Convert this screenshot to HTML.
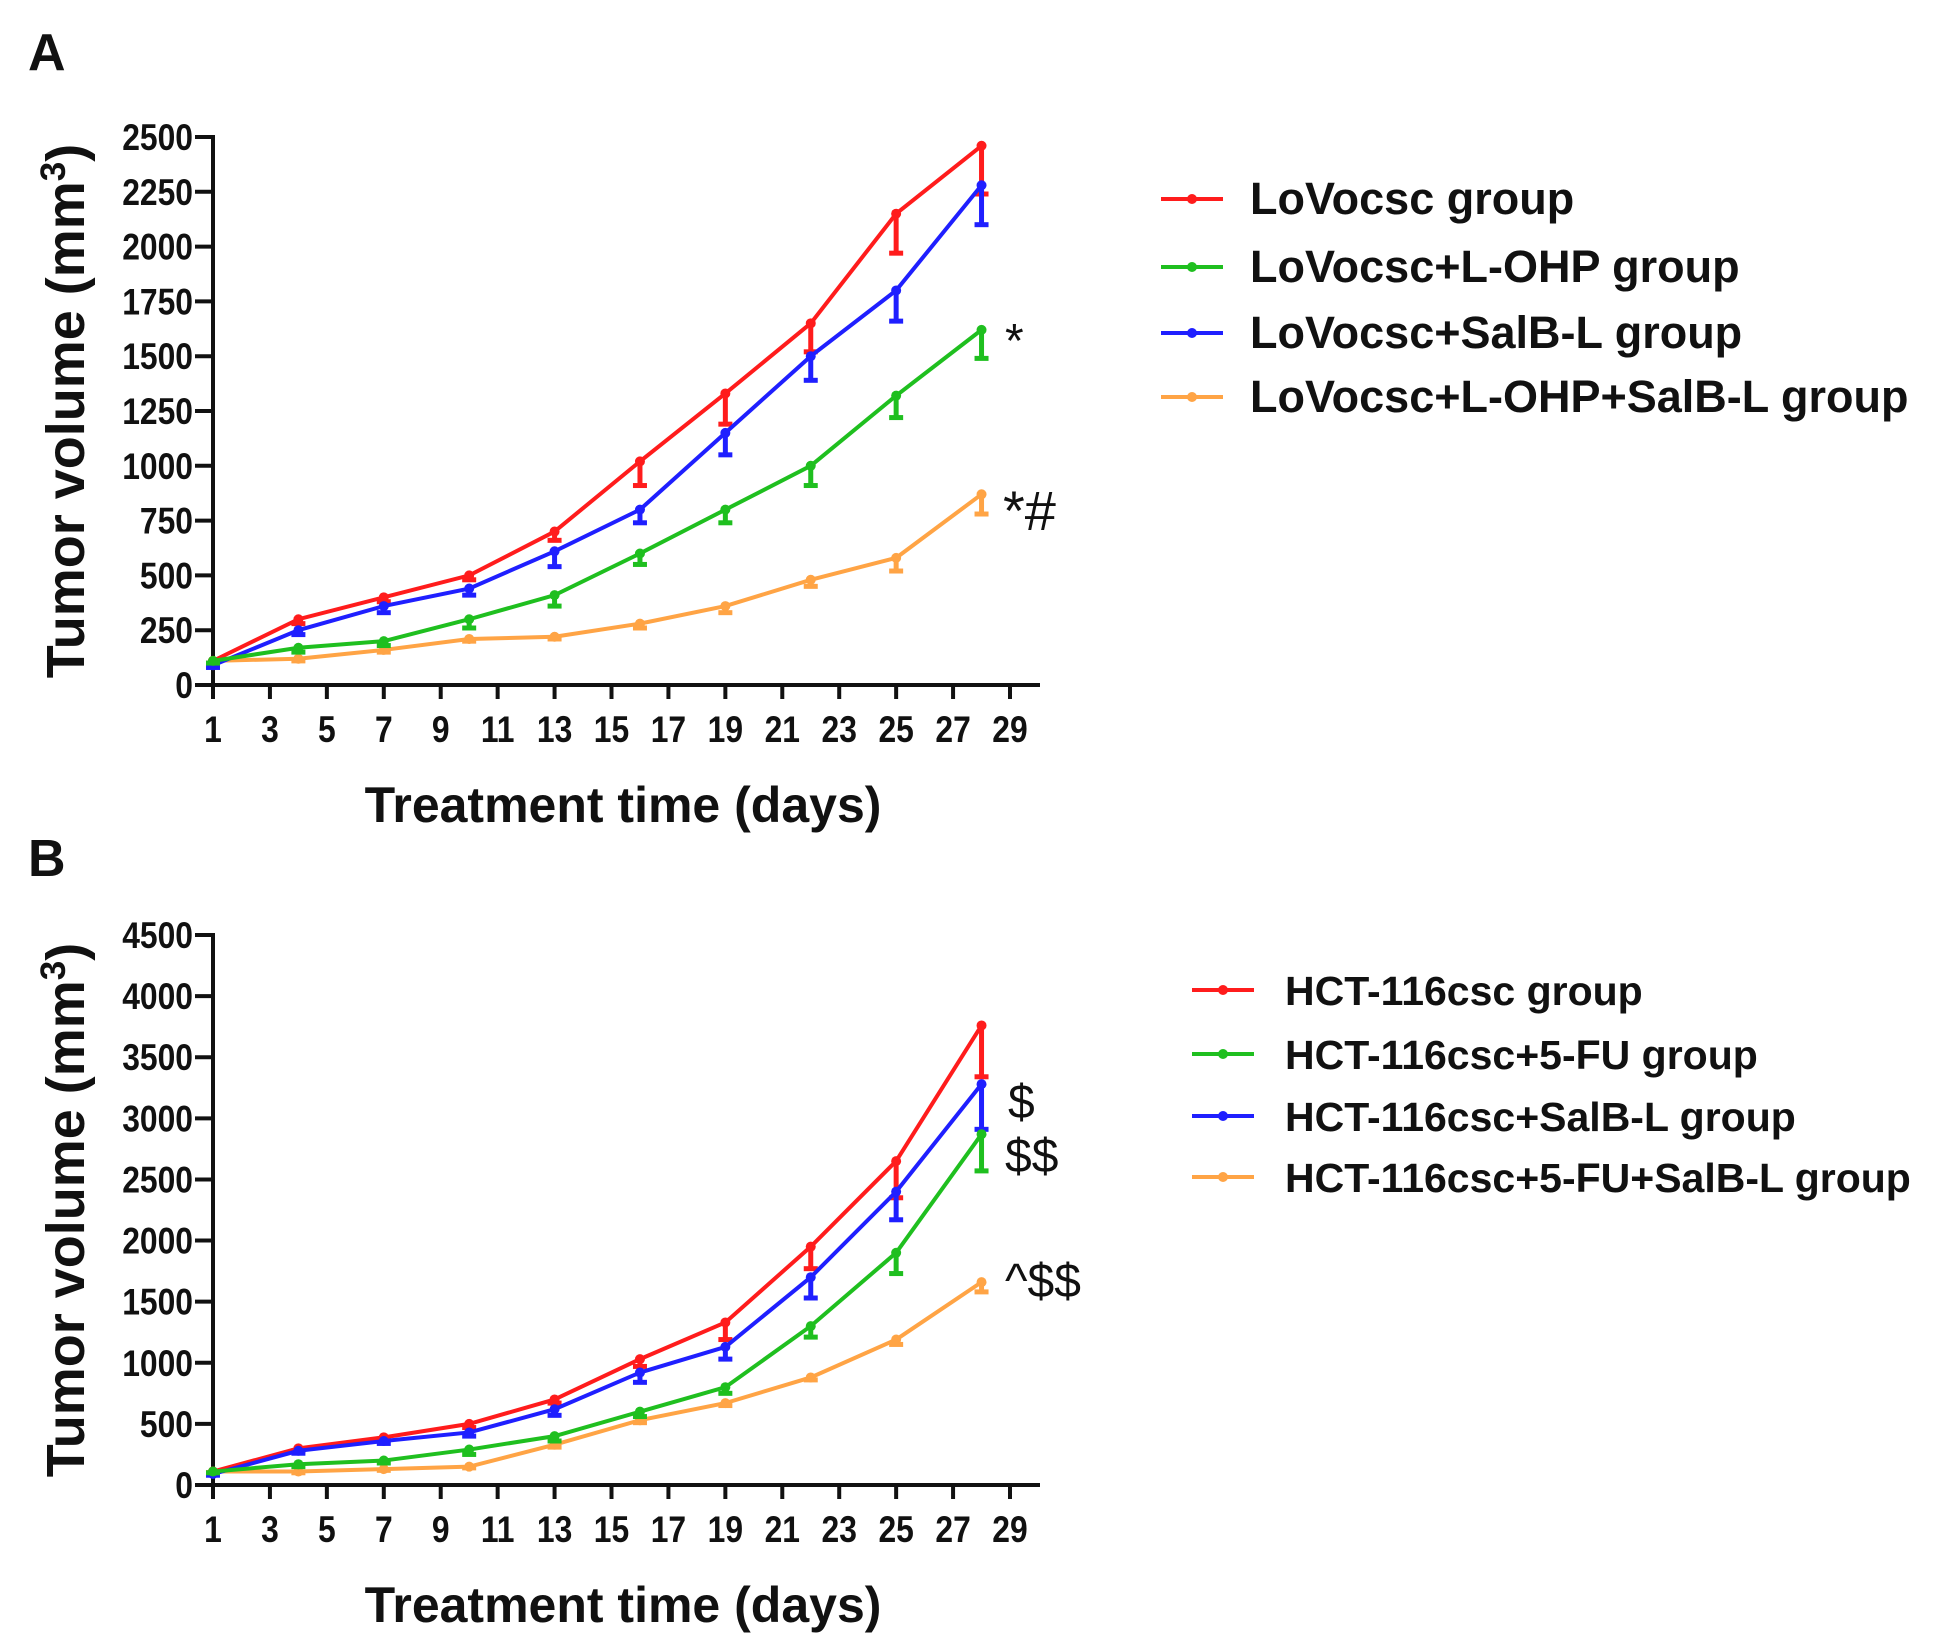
<!DOCTYPE html>
<html><head><meta charset="utf-8"><style>
body{margin:0;background:#fff}
svg{display:block}
.t{font-family:"Liberation Sans",sans-serif;font-weight:bold;font-size:37px;fill:#111}
.ti{font-family:"Liberation Sans",sans-serif;font-weight:bold;font-size:50px;fill:#111}
.lg{font-family:"Liberation Sans",sans-serif;font-weight:bold;fill:#111}
.an{font-family:"Liberation Sans",sans-serif;fill:#111}
</style></head><body>
<svg id="fig" width="1937" height="1651" viewBox="0 0 1937 1651">
<text x="28" y="70" class="ti" style="font-size:52px">A</text>
<text x="28" y="876" class="ti" style="font-size:52px">B</text>
</svg>
<script>
const days=[1,4,7,10,13,16,19,22,25,28];
const xTicks=[1,3,5,7,9,11,13,15,17,19,21,23,25,27,29];
const aNames=["LoVocsc group","LoVocsc+L-OHP group","LoVocsc+SalB-L group","LoVocsc+L-OHP+SalB-L group"];
const aRed=[110,300,400,500,700,1020,1330,1650,2150,2460];
const aRedErr=[10,20,20,20,40,110,140,130,180,220];
const aGreen=[110,170,200,300,410,600,800,1000,1320,1620];
const aGreenErr=[10,20,20,40,50,50,60,90,100,130];
const aBlue=[90,250,360,440,610,800,1150,1500,1800,2280];
const aBlueErr=[10,20,30,30,70,60,100,110,140,180];
const aOrange=[110,120,160,210,220,280,360,480,580,870];
const aOrangeErr=[10,10,10,10,10,20,30,30,60,90];
const aYTicks=[0,250,500,750,1000,1250,1500,1750,2000,2250,2500];
const bNames=["HCT-116csc group","HCT-116csc+5-FU group","HCT-116csc+SalB-L group","HCT-116csc+5-FU+SalB-L group"];
const bRed=[110,300,390,500,700,1030,1330,1950,2650,3760];
const bRedErr=[10,20,20,30,30,60,140,180,300,420];
const bGreen=[110,170,200,290,400,600,800,1300,1900,2870];
const bGreenErr=[10,20,20,40,40,40,50,90,170,300];
const bBlue=[90,280,360,430,620,920,1130,1700,2400,3280];
const bBlueErr=[10,20,20,30,50,80,100,170,230,370];
const bOrange=[110,110,130,150,330,530,670,880,1190,1660];
const bOrangeErr=[10,10,10,10,20,20,20,20,40,80];
const bYTicks=[0,500,1000,1500,2000,2500,3000,3500,4000,4500];

const NS="http://www.w3.org/2000/svg";
const svg=document.getElementById('fig');
const COLORS=["#ff1c1c","#1fbf1f","#1f1fff","#ffa445"];
function mk(tag,attrs,parent){const e=document.createElementNS(NS,tag);for(const k in attrs)e.setAttribute(k,attrs[k]);(parent||svg).appendChild(e);return e;}

function panel(p,yTicks,series,errs,names,legend,annots){
  const g=mk('g',{});
  
  
  const xs=d=>p.x0+(d-1)/(28)*(p.x1-p.x0);
  const ymax=yTicks[yTicks.length-1];
  const ys=v=>p.y0-(v/ymax)*(p.y0-p.yTop);
  const ax=mk('path',{d:`M${p.x0} ${p.yTop-2} V${p.y0} H${p.xEnd}`,stroke:'#111','stroke-width':4,fill:'none'},g);
  
  
  yTicks.forEach(v=>{
    mk('line',{x1:p.x0-18,x2:p.x0,y1:ys(v),y2:ys(v),stroke:'#111','stroke-width':4},g);
    const t=mk('text',{x:0,y:0,'text-anchor':'end',class:'t',transform:`translate(${p.x0-20},${ys(v)+13}) scale(0.86,1)`},g);
    t.textContent=v;
    
    
  });
  xTicks.forEach(d=>{
    mk('line',{x1:xs(d),x2:xs(d),y1:p.y0,y2:p.y0+14,stroke:'#111','stroke-width':4},g);
    const t=mk('text',{x:0,y:0,'text-anchor':'middle',class:'t',transform:`translate(${xs(d)},${p.y0+57}) scale(0.86,1)`},g);
    t.textContent=d;
    
    
  });
  const xt=mk('text',{x:623,y:p.y0+137,'text-anchor':'middle',class:'ti'},g);
  xt.textContent='Treatment time (days)';
  
  
  const ytx=84,yty=(p.y0+p.yTop)/2;
  const yt=mk('text',{x:ytx,y:yty,'text-anchor':'middle',class:'ti',style:'font-size:54px',transform:`rotate(-90 ${ytx} ${yty})`},g);
  yt.textContent='Tumor volume (mm';
  const sup=mk('tspan',{dy:-19,style:'font-size:35px'},yt);sup.textContent='3';
  const cl=mk('tspan',{dy:19},yt);cl.textContent=')';
  
  
  [3,0,2,1].forEach(i=>{
    const vals=series[i],er=errs[i],c=COLORS[i];
    const sg=mk('g',{},g);
    
    
    const pl=mk('polyline',{points:days.map((d,j)=>xs(d)+','+ys(vals[j])).join(' '),fill:'none',stroke:c,'stroke-width':4},sg);
    
    
    days.forEach((d,j)=>{
      const x=xs(d),y=ys(vals[j]),y2=ys(vals[j]-er[j]);
      mk('line',{x1:x,x2:x,y1:y,y2:y2,stroke:c,'stroke-width':5},sg);
      mk('line',{x1:x-7,x2:x+7,y1:y2,y2:y2,stroke:c,'stroke-width':5},sg);
      const m=mk('circle',{cx:x,cy:y,r:5,fill:c},sg);
      
      
    });
  });
  names.forEach((n,i)=>{
    const lg=mk('g',{},g);
    
    
    const y=legend.ys[i];
    mk('line',{x1:legend.lx0,x2:legend.lx1,y1:y,y2:y,stroke:COLORS[i],'stroke-width':4},lg);
    mk('circle',{cx:(legend.lx0+legend.lx1)/2,cy:y,r:5,fill:COLORS[i]},lg);
    const t=mk('text',{x:legend.tx,y:y+15,class:'lg',style:`font-size:${legend.fs}px`},lg);
    t.textContent=n;
  });
  annots.forEach(a=>{
    const t=mk('text',{x:a[1],y:a[2],class:'an',style:`font-size:${a[3]}px`},g);
    t.textContent=a[0];
    
    
  });
}
panel({id:'panel-a',x0:213,x1:1010,xEnd:1040,y0:685,yTop:137},aYTicks,
 [aRed,aGreen,aBlue,aOrange],[aRedErr,aGreenErr,aBlueErr,aOrangeErr],aNames,
 {lx0:1161,lx1:1223,tx:1250,ys:[199,267,333,397],fs:45},
 [['*',1005,357,48],['*#',1003,530,56]]);
panel({id:'panel-b',x0:213,x1:1010,xEnd:1040,y0:1485,yTop:935},bYTicks,
 [bRed,bGreen,bBlue,bOrange],[bRedErr,bGreenErr,bBlueErr,bOrangeErr],bNames,
 {lx0:1192,lx1:1254,tx:1285,ys:[990,1054,1116,1177],fs:41},
 [['$',1008,1118,48],['$$',1005,1172,48],['^$$',1005,1297,48]]);
</script>
</body></html>
